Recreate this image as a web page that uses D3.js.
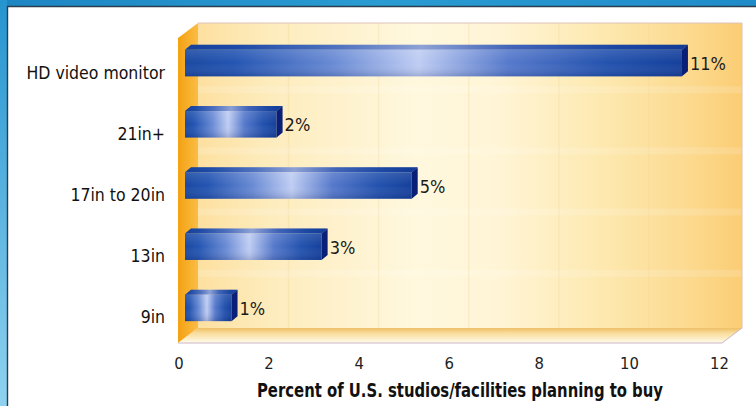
<!DOCTYPE html>
<html>
<head>
<meta charset="utf-8">
<script src="https://cdn.jsdelivr.net/npm/d3@7"></script>
<style>
  html, body { margin: 0; padding: 0; background: #fff; }
  svg { display: block; }
</style>
</head>
<body>
<svg id="chart" width="756" height="406"></svg>
<script>
// Monitor purchase plans, percent of U.S. studios/facilities
const categories = ["HD video monitor", "21in+", "17in to 20in", "13in", "9in"];
const values = [11, 2, 5, 3, 1];
const valueLabels = ["11%", "2%", "5%", "3%", "1%"];
const xTicks = [0, 2, 4, 6, 8, 10, 12];
const xTitle = "Percent of U.S. studios/facilities planning to buy";

const W = 756, H = 406;
const svg = d3.select("#chart");
const defs = svg.append("defs");

// Front plane scales
const x = d3.scaleLinear().domain([0, 12]).range([178.5, 719]);
const y = d3.scaleBand().domain(categories).range([37, 343]);

// depth offset of the back wall
const DX = 20, DY = -15;
const frontTop = 38, frontBottom = 343;
const xL = x(0) - 0.5, xR = x(12) + 3;

// ---------- frame ----------
svg.append("rect").attr("width", W).attr("height", H).attr("fill", "#ffffff");
const gTop = defs.append("linearGradient").attr("id", "frameTop");
gTop.append("stop").attr("offset", 0).attr("stop-color", "#1c86c2");
gTop.append("stop").attr("offset", 0.5).attr("stop-color", "#2a9bd3");
gTop.append("stop").attr("offset", 1).attr("stop-color", "#1f8cc8");
svg.append("rect").attr("x", 0).attr("y", 0).attr("width", W).attr("height", 6).attr("fill", "url(#frameTop)");
const gLeft = defs.append("linearGradient").attr("id", "frameLeft")
  .attr("x1", 0).attr("y1", 0).attr("x2", 0).attr("y2", 1);
gLeft.append("stop").attr("offset", 0).attr("stop-color", "#2594cf");
gLeft.append("stop").attr("offset", 1).attr("stop-color", "#8fd2f0");
svg.append("rect").attr("x", 0).attr("y", 0).attr("width", 7).attr("height", H).attr("fill", "url(#frameLeft)");
svg.append("path").attr("d", `M7.5,${H} V6.5 H${W}`)
  .attr("fill", "none").attr("stroke", "#2b3e4e").attr("stroke-width", 1.4);

// ---------- 3D plot box ----------
// back wall
const gWall = defs.append("linearGradient").attr("id", "wall");
[[0, "#fde0a0"], [0.12, "#fdebbb"], [0.4, "#fff8de"], [0.55, "#fff5d6"],
 [0.75, "#fde8ae"], [0.9, "#fcda90"], [1, "#fbcd74"]]
  .forEach(([o, c]) => gWall.append("stop").attr("offset", o).attr("stop-color", c));
svg.append("rect")
  .attr("x", xL + DX).attr("y", frontTop + DY)
  .attr("width", xR - xL).attr("height", frontBottom - frontTop)
  .attr("fill", "url(#wall)");

// faint vertical grid on the back wall
svg.append("g").selectAll("line").data(xTicks.slice(1, -1)).join("line")
  .attr("x1", d => x(d) + DX).attr("x2", d => x(d) + DX)
  .attr("y1", frontTop + DY).attr("y2", frontBottom + DY)
  .attr("stroke", "#f1d79c").attr("stroke-width", 1.5).attr("opacity", 0.3);

// soft light streaks on the wall between the bars
svg.append("g").selectAll("rect").data(categories).join("rect")
  .attr("x", xL + DX).attr("width", xR - xL)
  .attr("y", d => y(d) + y.bandwidth() - 12).attr("height", 7)
  .attr("fill", "#ffffff").attr("opacity", 0.14);

// wall outline (top + right edge)
svg.append("path")
  .attr("d", `M${xL + DX},${frontTop + DY} H${xR + DX} V${frontBottom + DY}`)
  .attr("fill", "none").attr("stroke", "#dcc2bc").attr("stroke-width", 1);

// left side wall
const gSide = defs.append("linearGradient").attr("id", "side");
gSide.append("stop").attr("offset", 0).attr("stop-color", "#f3a112");
gSide.append("stop").attr("offset", 1).attr("stop-color", "#fbbd45");
svg.append("path")
  .attr("d", `M${xL},${frontBottom} V${frontTop} L${xL + DX},${frontTop + DY} V${frontBottom + DY} Z`)
  .attr("fill", "url(#side)");

// floor
const gFloor = defs.append("linearGradient").attr("id", "floor")
  .attr("x1", 0).attr("y1", 0).attr("x2", 0).attr("y2", 1);
gFloor.append("stop").attr("offset", 0).attr("stop-color", "#efbf66");
gFloor.append("stop").attr("offset", 0.35).attr("stop-color", "#f9dd9c");
gFloor.append("stop").attr("offset", 1).attr("stop-color", "#fffbea");
svg.append("path")
  .attr("d", `M${xL},${frontBottom} L${xL + DX},${frontBottom + DY} H${xR + DX} L${xR},${frontBottom} Z`)
  .attr("fill", "url(#floor)");
svg.append("path")
  .attr("d", `M${xL},${frontBottom} H${xR} L${xR + DX},${frontBottom + DY}`)
  .attr("fill", "none").attr("stroke", "#cdb6c6").attr("stroke-width", 1);

// ---------- bars ----------
const gBar = defs.append("linearGradient").attr("id", "barH");
[[0, "#1a49a2"], [0.1, "#2455b2"], [0.3, "#6a8bd4"], [0.47, "#bfcdf3"],
 [0.65, "#5679cb"], [0.85, "#2352ae"], [1, "#15409b"]]
  .forEach(([o, c]) => gBar.append("stop").attr("offset", o).attr("stop-color", c));
const gShade = defs.append("linearGradient").attr("id", "barV")
  .attr("x1", 0).attr("y1", 0).attr("x2", 0).attr("y2", 1);
gShade.append("stop").attr("offset", 0).attr("stop-color", "#ffffff").attr("stop-opacity", 0.12);
gShade.append("stop").attr("offset", 0.5).attr("stop-color", "#ffffff").attr("stop-opacity", 0);
gShade.append("stop").attr("offset", 1).attr("stop-color", "#001050").attr("stop-opacity", 0.18);

const BH = 26.5, BD = 6, BT = 5;   // front height, depth dx, depth dy
const bars = categories.map((c, i) => {
  const cy = y(c) + y.bandwidth() / 2 - 4.5;
  return { cat: c, v: values[i], label: valueLabels[i],
           x0: x(0) + 6.5, xe: x(values[i]) + 8, top: cy - BH / 2, bot: cy + BH / 2, cy };
});
const gb = svg.append("g").selectAll("g").data(bars).join("g");
// top face
gb.append("path")
  .attr("d", d => `M${d.x0},${d.top} L${d.x0 + BD},${d.top - BT} H${d.xe + BD} L${d.xe},${d.top} Z`)
  .attr("fill", "url(#barH)");
gb.append("path")
  .attr("d", d => `M${d.x0},${d.top} L${d.x0 + BD},${d.top - BT} H${d.xe + BD} L${d.xe},${d.top} Z`)
  .attr("fill", "#0b2f8a").attr("opacity", 0.28);
// front face
gb.append("rect")
  .attr("x", d => d.x0).attr("y", d => d.top)
  .attr("width", d => d.xe - d.x0).attr("height", BH)
  .attr("fill", "url(#barH)");
gb.append("rect")
  .attr("x", d => d.x0).attr("y", d => d.top)
  .attr("width", d => d.xe - d.x0).attr("height", BH)
  .attr("fill", "url(#barV)");
// end face
gb.append("path")
  .attr("d", d => `M${d.xe},${d.top} L${d.xe + BD},${d.top - BT} V${d.bot - BT} L${d.xe},${d.bot} Z`)
  .attr("fill", "#0a1f78");

// value labels
gb.append("text")
  .attr("x", d => x(d.v) + 16).attr("y", d => d.cy + 7)
  .attr("font-family", "'DejaVu Sans Condensed', 'DejaVu Sans', sans-serif")
  .attr("font-stretch", "condensed")
  .attr("font-size", 18).attr("fill", "#1b1b1b")
  .text(d => d.label);

// ---------- axes ----------
const yAxis = d3.axisLeft(y).tickSize(0).tickPadding(0);
const gy = svg.append("g").attr("transform", `translate(165,0)`).call(yAxis);
gy.select(".domain").remove();
gy.selectAll("text")
  .attr("dy", null).attr("y", 11)
  .attr("font-family", "'DejaVu Sans Condensed', 'DejaVu Sans', sans-serif")
  .attr("font-stretch", "condensed")
  .attr("font-size", 17.5).attr("fill", "#111");
gy.selectAll(".tick").attr("transform", d => `translate(0,${y(d) + y.bandwidth() / 2})`);

const xAxis = d3.axisBottom(x).tickValues(xTicks).tickSize(0).tickPadding(0).tickFormat(d3.format("d"));
const gx = svg.append("g").attr("transform", `translate(0,369)`).call(xAxis);
gx.select(".domain").remove();
gx.selectAll("text")
  .attr("dy", null).attr("y", 0)
  .attr("font-family", "'DejaVu Sans Condensed', 'DejaVu Sans', sans-serif")
  .attr("font-stretch", "condensed")
  .attr("font-size", 16.5).attr("fill", "#222");

svg.append("text")
  .attr("x", 460).attr("y", 397)
  .attr("text-anchor", "middle")
  .attr("font-family", "'Liberation Sans Narrow', 'DejaVu Sans Condensed', sans-serif")
  .attr("font-stretch", "condensed")
  .attr("font-weight", "bold").attr("font-size", 20).attr("fill", "#111")
  .attr("textLength", 406).attr("lengthAdjust", "spacingAndGlyphs")
  .text(xTitle);
</script>
</body>
</html>
